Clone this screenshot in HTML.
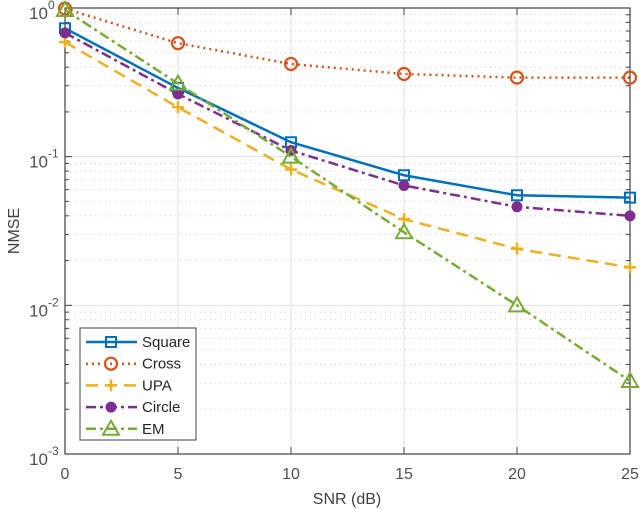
<!DOCTYPE html>
<html><head><meta charset="utf-8"><style>
body{margin:0;background:#fff;}
svg{display:block;font-family:"Liberation Sans",sans-serif;}
</style></head><body>
<svg id="chart" width="640" height="509" viewBox="0 0 640 509"></svg>
<script>
const snr = [0, 5, 10, 15, 20, 25];
const squareVals = [0.73, 0.29, 0.125, 0.075, 0.055, 0.053];
const crossVals = [0.99, 0.58, 0.42, 0.36, 0.34, 0.34];
const upaVals = [0.59, 0.215, 0.082, 0.038, 0.024, 0.018];
const circleVals = [0.68, 0.264, 0.11, 0.064, 0.046, 0.04];
const emVals = [0.97, 0.31, 0.1, 0.031, 0.01, 0.0031];
const xTicks = [0, 5, 10, 15, 20, 25];
const yDecades = [0, -1, -2, -3];
const seriesNames = ["Square", "Cross", "UPA", "Circle", "EM"];

const NS = "http://www.w3.org/2000/svg";
const svg = document.getElementById("chart");
const L = 65, R = 630, T = 8, B = 454;
const xS = v => L + (v - 0) / 25 * (R - L);
const yS = v => T + (0 - Math.log10(v)) / 3 * (B - T);
function mk(tag, attrs, parent) {
  const e = document.createElementNS(NS, tag);
  for (const k in attrs) e.setAttribute(k, attrs[k]);
  (parent || svg).appendChild(e);
  return e;
}
const grid = mk("g", {});


for (let d = -3; d < 0; d++) {
  for (let m = 2; m <= 9; m++) {
    const y = yS(m * Math.pow(10, d));
    mk("line", {x1: L, x2: R, y1: y, y2: y, stroke: "#cfcfcf", "stroke-width": 1, "stroke-dasharray": "1 4"}, grid);
    mk("line", {x1: L, x2: L + 4, y1: y, y2: y, stroke: "#404040", "stroke-width": 1}, grid);
    mk("line", {x1: R, x2: R - 4, y1: y, y2: y, stroke: "#404040", "stroke-width": 1}, grid);
  }
}
yDecades.forEach(d => {
  const y = yS(Math.pow(10, d));
  mk("line", {x1: L, x2: R, y1: y, y2: y, stroke: "#e0e0e0", "stroke-width": 1}, grid);
  mk("line", {x1: L, x2: L + 7, y1: y, y2: y, stroke: "#404040"}, grid);
  mk("line", {x1: R, x2: R - 7, y1: y, y2: y, stroke: "#404040"}, grid);
  const t = mk("text", {x: 48, y: y + 11, "text-anchor": "end", "font-size": 17, fill: "#505050"});
  
  
  t.textContent = "10";
  const s = mk("text", {x: 48, y: y + 1, "font-size": 12, fill: "#505050"});
  
  
  s.textContent = String(d);
});
xTicks.forEach(v => {
  const x = xS(v);
  mk("line", {x1: x, x2: x, y1: T, y2: B, stroke: "#e0e0e0"}, grid);
  mk("line", {x1: x, x2: x, y1: B, y2: B - 7, stroke: "#404040"}, grid);
  mk("line", {x1: x, x2: x, y1: T, y2: T + 7, stroke: "#404040"}, grid);
  const t = mk("text", {x: x, y: 479, "text-anchor": "middle", "font-size": 16, fill: "#505050"});
  
  
  t.textContent = String(v);
});
const frame = mk("rect", {x: L, y: T, width: R - L, height: B - T, fill: "none", stroke: "#404040", "stroke-width": 1.2});


const xl = mk("text", {x: 347, y: 504, "text-anchor": "middle", "font-size": 16, fill: "#404040"});


xl.textContent = "SNR (dB)";
const yl = mk("text", {x: 0, y: 0, transform: "translate(19,231) rotate(-90)", "text-anchor": "middle", "font-size": 16, fill: "#404040"});


yl.textContent = "NMSE";

const styles = [
  {c: "#0072BD", dash: "", m: "square"},
  {c: "#D95319", dash: "2 4", m: "circle"},
  {c: "#EDB120", dash: "12 7", m: "plus"},
  {c: "#7E2F8E", dash: "10 4 3 4", m: "dot"},
  {c: "#77AC30", dash: "10 4 3 4", m: "tri"}
];
function marker(g, type, x, y, c) {
  if (type === "square") mk("rect", {x: x - 5, y: y - 5, width: 10, height: 10, fill: "none", stroke: c, "stroke-width": 2}, g);
  else if (type === "circle") mk("circle", {cx: x, cy: y, r: 6, fill: "none", stroke: c, "stroke-width": 2.2}, g);
  else if (type === "plus") { mk("path", {d: `M${x-6},${y}H${x+6}M${x},${y-6}V${y+6}`, stroke: c, "stroke-width": 2.5}, g); }
  else if (type === "dot") mk("circle", {cx: x, cy: y, r: 5, fill: c, stroke: c, "stroke-width": 1}, g);
  else mk("path", {d: `M${x},${y-8}L${x+8},${y+6}L${x-8},${y+6}Z`, fill: "none", stroke: c, "stroke-width": 2}, g);
}
const allVals = [squareVals, crossVals, upaVals, circleVals, emVals];
allVals.forEach((vals, i) => {
  const st = styles[i];
  const g = mk("g", {});
  
  
  const pts = vals.map((v, j) => xS(snr[j]) + "," + yS(v)).join(" ");
  mk("polyline", {points: pts, fill: "none", stroke: st.c, "stroke-width": 2.5, "stroke-dasharray": st.dash}, g);
  vals.forEach((v, j) => marker(g, st.m, xS(snr[j]), yS(v), st.c));
});
const lg = mk("g", {});


mk("rect", {x: 80, y: 328, width: 116, height: 112, fill: "#fff", stroke: "#404040", "stroke-width": 1}, lg);
seriesNames.forEach((n, i) => {
  const st = styles[i];
  const y = 342 + i * 21.7;
  const e = mk("g", {}, lg);
  
  
  mk("line", {x1: 86, x2: 137, y1: y, y2: y, stroke: st.c, "stroke-width": 2.5, "stroke-dasharray": st.dash}, e);
  marker(e, st.m, 111, y, st.c);
  const t = mk("text", {x: 142, y: y + 5, "font-size": 15, fill: "#262626"}, e);
  t.textContent = n;
});
</script>
</body></html>
